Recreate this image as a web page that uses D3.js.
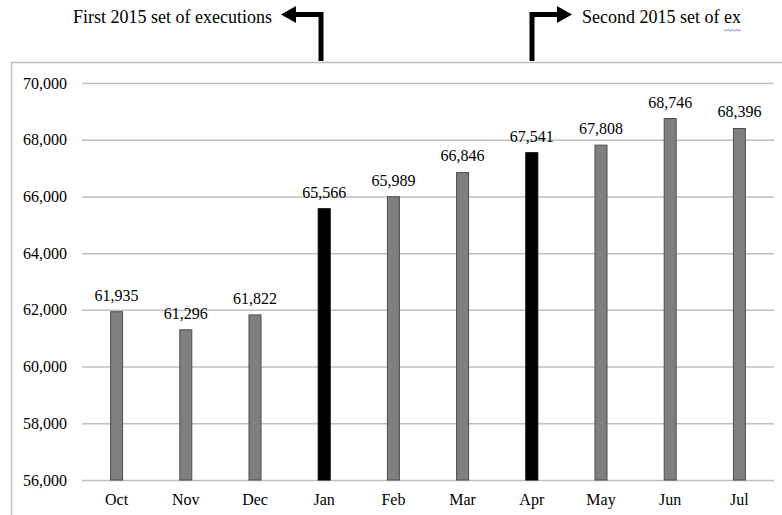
<!DOCTYPE html>
<html>
<head>
<meta charset="utf-8">
<script src="https://cdn.jsdelivr.net/npm/d3@7"></script>
<style>
  body { margin: 0; background: #fff; }
  svg { display: block; }
  text { font-family: "Liberation Serif", "Times New Roman", serif; fill: #000; }
</style>
</head>
<body>
<svg id="chart" width="782" height="515"></svg>
<script>
var months = ["Oct", "Nov", "Dec", "Jan", "Feb", "Mar", "Apr", "May", "Jun", "Jul"];
var values = [61935, 61296, 61822, 65566, 65989, 66846, 67541, 67808, 68746, 68396];
var highlighted = ["Jan", "Apr"];
var yTicks = [56000, 58000, 60000, 62000, 64000, 66000, 68000, 70000];

var svg = d3.select("#chart");
var fmt = d3.format(",");

var x = d3.scaleBand().domain(months).range([82, 774]);
var y = d3.scaleLinear().domain([56000, 70000]).range([480, 83]);

// outer frame
svg.append("rect")
    .attr("x", 11.5).attr("y", 62.5)
    .attr("width", 800).attr("height", 500)
    .attr("fill", "none")
    .attr("stroke", "#bfbfbf")
    .attr("stroke-width", 1.5);

// y axis with gridlines
var yAxis = svg.append("g")
    .attr("transform", "translate(82,0)")
    .call(d3.axisLeft(y).tickValues(yTicks).tickFormat(fmt)
        .tickSize(-692).tickPadding(15));
yAxis.select(".domain").remove();
yAxis.selectAll("line").attr("stroke", "#bfbfbf").attr("stroke-width", 1.5);
yAxis.selectAll("text").attr("font-size", 16).attr("font-family", "Liberation Serif, serif");

// x axis labels
var xAxis = svg.append("g")
    .attr("transform", "translate(0,480)")
    .call(d3.axisBottom(x).tickSize(0).tickPadding(14));
xAxis.select(".domain").remove();
xAxis.selectAll("text").attr("font-size", 16).attr("font-family", "Liberation Serif, serif");

var data = months.map(function(m, i) { return { month: m, value: values[i] }; });
var barW = 12;

svg.append("g").selectAll("rect")
    .data(data)
    .join("rect")
    .attr("x", function(d) { return x(d.month) + x.bandwidth() / 2 - barW / 2; })
    .attr("y", function(d) { return y(d.value); })
    .attr("width", barW)
    .attr("height", function(d) { return y(56000) - y(d.value); })
    .attr("fill", function(d) { return highlighted.includes(d.month) ? "#000" : "#7f7f7f"; })
    .attr("stroke", function(d) { return highlighted.includes(d.month) ? "#000" : "#4d4d4d"; })
    .attr("stroke-width", 1);

svg.append("g").selectAll("text")
    .data(data)
    .join("text")
    .attr("x", function(d) { return x(d.month) + x.bandwidth() / 2; })
    .attr("y", function(d) { return y(d.value) - 11; })
    .attr("text-anchor", "middle")
    .attr("font-size", 16)
    .text(function(d) { return fmt(d.value); });

// annotation arrows
var arrowW = 5;
function arrow(xv, dir) {
  var yTop = 14.5, yBot = 61;
  var tipX = dir < 0 ? 281 : 572;
  var baseX = tipX - dir * 15;
  svg.append("path")
      .attr("d", "M" + xv + "," + yBot + " L" + xv + "," + yTop + " L" + baseX + "," + yTop)
      .attr("fill", "none")
      .attr("stroke", "#000")
      .attr("stroke-width", arrowW)
      .attr("stroke-linejoin", "miter");
  svg.append("path")
      .attr("d", "M" + tipX + "," + yTop + " L" + baseX + "," + (yTop - 8.5) + " L" + baseX + "," + (yTop + 8.5) + "Z")
      .attr("fill", "#000");
}
arrow(321, -1);
arrow(532, 1);

svg.append("text")
    .attr("x", 272).attr("y", 23)
    .attr("text-anchor", "end")
    .attr("font-size", 18)
    .text("First 2015 set of executions");

var t2 = svg.append("text")
    .attr("x", 582).attr("y", 23)
    .attr("font-size", 18)
    .text("Second 2015 set of ex");

// spell-check squiggle under "ex"
var full = t2.node().getComputedTextLength();
var exW = t2.node().getSubStringLength(19, 2);
var sx = 582 + full - exW;
var n = Math.max(2, Math.round(exW / 2.1));
var sq = d3.range(n + 1).map(function(i) { return [sx + i * exW / n, 29.5 + (i % 2 ? 1.5 : 0)]; });
svg.append("path")
    .attr("d", d3.line()(sq))
    .attr("fill", "none")
    .attr("stroke", "#4a6bd6")
    .attr("stroke-width", 0.8);
</script>
</body>
</html>
